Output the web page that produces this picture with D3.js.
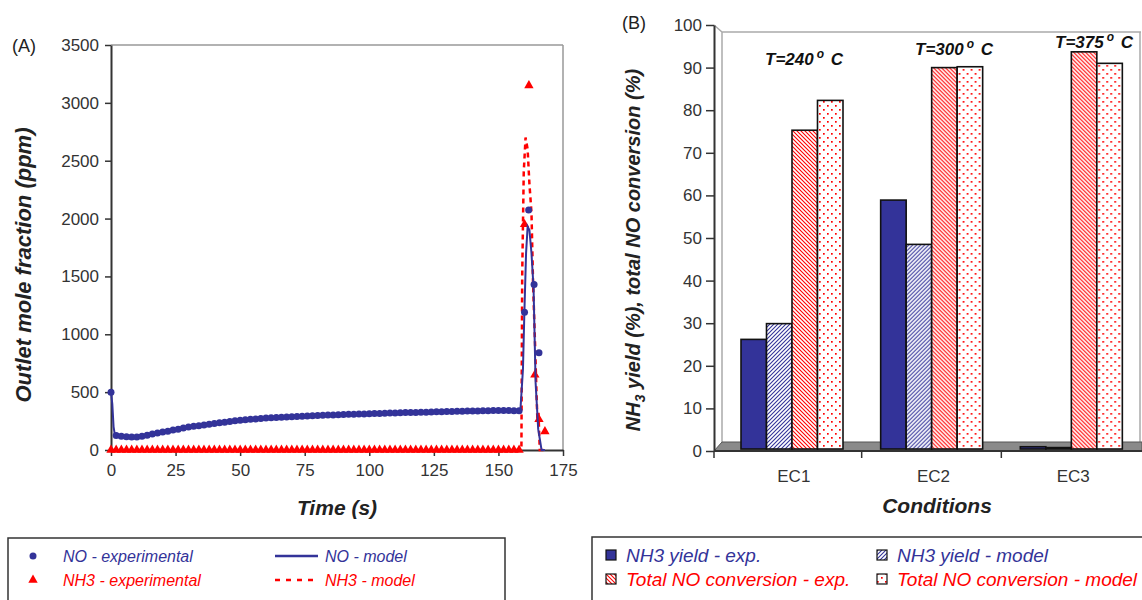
<!DOCTYPE html>
<html>
<head>
<meta charset="utf-8">
<script src="https://cdn.jsdelivr.net/npm/d3@7"></script>
<style>
  body { margin: 0; background: #fff; }
  svg { display: block; font-family: "Liberation Sans", Arial, sans-serif; }
</style>
</head>
<body>
<svg id="chart" width="1142" height="600"></svg>
<script>
// panel A: outlet mole fraction vs time
const noExpTime = [0, 2, 4, 6, 8, 10, 12, 14, 16, 18, 20, 22, 24, 26, 28, 30, 32, 34, 36, 38,
  40, 42, 44, 46, 48, 50, 52, 54, 56, 58, 60, 62, 64, 66, 68, 70, 72, 74, 76, 78,
  80, 82, 84, 86, 88, 90, 92, 94, 96, 98, 100, 102, 104, 106, 108, 110, 112, 114, 116, 118,
  120, 122, 124, 126, 128, 130, 132, 134, 136, 138, 140, 142, 144, 146, 148, 150, 152, 154, 156, 158,
  160.1, 161.7, 163.8, 165.7];
const noExpVal = [500, 125, 118, 115, 112, 112, 118, 128, 138, 146, 155, 163, 172, 180, 190, 198, 205, 210, 217, 223,
  229, 235, 240, 246, 252, 257, 261, 265, 268, 272, 276, 279, 281, 283, 285, 288, 290, 292, 294, 296,
  298, 300, 302, 303, 305, 307, 308, 310, 311, 312, 313, 315, 316, 318, 319, 320, 322, 323, 324, 325,
  326, 327, 328, 330, 331, 332, 333, 334, 335, 336, 337, 338, 339, 340, 341, 342, 342, 341, 340, 340,
  1190, 2075, 1430, 840];

const noModelTime = [0, 0.5, 1, 1.5, 3, 6, 10, 15, 20, 25, 30, 40, 50, 60, 75, 90, 100, 125, 150, 158.5,
  159.5, 160, 160.7, 161.3, 162, 162.8, 163.6, 164.4, 165.4, 166.7, 168];
const noModelVal = [500, 400, 200, 130, 120, 112, 110, 132, 153, 175, 197, 228, 255, 275, 292, 306, 312, 329, 340, 340,
  700, 1150, 1700, 1930, 1900, 1700, 1400, 580, 180, 0, 0];

const nh3ExpTime = [0, 2, 4, 6, 8, 10, 12, 14, 16, 18, 20, 22, 24, 26, 28, 30, 32, 34, 36, 38,
  40, 42, 44, 46, 48, 50, 52, 54, 56, 58, 60, 62, 64, 66, 68, 70, 72, 74, 76, 78,
  80, 82, 84, 86, 88, 90, 92, 94, 96, 98, 100, 102, 104, 106, 108, 110, 112, 114, 116, 118,
  120, 122, 124, 126, 128, 130, 132, 134, 136, 138, 140, 142, 144, 146, 148, 150, 152, 154, 156, 158,
  160.1, 161.8, 164.1, 165.7, 168];
const nh3ExpVal = [0, 0, 0, 0, 0, 0, 0, 0, 0, 0, 0, 0, 0, 0, 0, 0, 0, 0, 0, 0,
  0, 0, 0, 0, 0, 0, 0, 0, 0, 0, 0, 0, 0, 0, 0, 0, 0, 0, 0, 0,
  0, 0, 0, 0, 0, 0, 0, 0, 0, 0, 0, 0, 0, 0, 0, 0, 0, 0, 0, 0,
  0, 0, 0, 0, 0, 0, 0, 0, 0, 0, 0, 0, 0, 0, 0, 0, 0, 0, 0, 0,
  1950, 3150, 650, 265, 160];

const nh3ModelTime = [0, 158.9, 159.2, 159.8, 160.5, 161.3, 162, 162.8, 163.4, 164.2, 164.7, 165.1, 165.5, 166, 168];
const nh3ModelVal = [0, 0, 1500, 2400, 2700, 2600, 2300, 2050, 1450, 900, 520, 250, 330, 0, 0];

const timeTicks = [0, 25, 50, 75, 100, 125, 150, 175];
const moleTicks = [0, 500, 1000, 1500, 2000, 2500, 3000, 3500];

// panel B: yields and conversions
const conditions = ["EC1", "EC2", "EC3"];
const temperatures = ["240", "300", "375"];
const nh3YieldExp = [26.2, 58.9, 1.0];
const nh3YieldModel = [29.9, 48.5, 0.8];
const noConvExp = [75.3, 90.0, 93.7];
const noConvModel = [82.3, 90.2, 91.0];
const pctTicks = [0, 10, 20, 30, 40, 50, 60, 70, 80, 90, 100];
const barSeries = ["nh3Exp", "nh3Model", "convExp", "convModel"];

const blue = "#333399", red = "#ff0000";
const svg = d3.select("#chart");

// patterns
const defs = svg.append("defs");
const hatchB = defs.append("pattern").attr("id", "hatchBlue")
  .attr("patternUnits", "userSpaceOnUse").attr("width", 4).attr("height", 4);
hatchB.append("rect").attr("width", 4).attr("height", 4).attr("fill", "#fff");
hatchB.append("path").attr("d", "M-1,1 l2,-2 M0,4 l4,-4 M3,5 l2,-2")
  .attr("stroke", blue).attr("stroke-width", 1.1);
const hatchR = defs.append("pattern").attr("id", "hatchRed")
  .attr("patternUnits", "userSpaceOnUse").attr("width", 4).attr("height", 4);
hatchR.append("rect").attr("width", 4).attr("height", 4).attr("fill", "#fff");
hatchR.append("path").attr("d", "M-1,3 l2,2 M0,0 l4,4 M3,-1 l2,2")
  .attr("stroke", red).attr("stroke-width", 1.1);
const dotsR = defs.append("pattern").attr("id", "dotsRed")
  .attr("patternUnits", "userSpaceOnUse").attr("width", 8).attr("height", 8);
dotsR.append("rect").attr("width", 8).attr("height", 8).attr("fill", "#fff");
dotsR.append("rect").attr("x", 1).attr("y", 1).attr("width", 1.7).attr("height", 1.7).attr("fill", red);
dotsR.append("rect").attr("x", 5).attr("y", 5).attr("width", 1.7).attr("height", 1.7).attr("fill", red);

const fills = { nh3Exp: blue, nh3Model: "url(#hatchBlue)", convExp: "url(#hatchRed)", convModel: "url(#dotsRed)" };

// ---------- panel A ----------
const xA = d3.scaleLinear().domain([0, 175]).range([111, 563]);
const yA = d3.scaleLinear().domain([0, 3500]).range([450, 45]);

svg.append("line").attr("x1", xA(0)).attr("x2", xA(175)).attr("y1", yA(3500)).attr("y2", yA(3500))
  .attr("stroke", "#999").attr("stroke-width", 1.5);
svg.append("line").attr("x1", xA(175)).attr("x2", xA(175)).attr("y1", yA(3500)).attr("y2", yA(0))
  .attr("stroke", "#999").attr("stroke-width", 1.5);

const axA = svg.append("g").attr("transform", `translate(0,${yA(0)})`)
  .call(d3.axisBottom(xA).tickValues(timeTicks).tickSize(6).tickPadding(8).tickSizeOuter(0));
const ayA = svg.append("g").attr("transform", `translate(${xA(0)},0)`)
  .call(d3.axisLeft(yA).tickValues(moleTicks).tickFormat(d3.format("d")).tickSize(6).tickPadding(6).tickSizeOuter(0));
[axA, ayA].forEach(g => {
  g.select(".domain").attr("stroke", "#333").attr("stroke-width", 2);
  g.selectAll(".tick line").attr("stroke", "#333").attr("stroke-width", 1.5);
  g.selectAll(".tick text").attr("fill", "#333").style("font-size", "17px")
    .style("font-family", "Liberation Sans, Arial, sans-serif");
});

const noModel = noModelTime.map((t, i) => [t, noModelVal[i]]);
const nh3Model = nh3ModelTime.map((t, i) => [t, nh3ModelVal[i]]);
const lineA = d3.line().x(d => xA(d[0])).y(d => yA(d[1]));

svg.append("path").datum(nh3Model).attr("d", lineA)
  .attr("fill", "none").attr("stroke", red).attr("stroke-width", 2.5).attr("stroke-dasharray", "5,4");

svg.append("g").selectAll("path")
  .data(nh3ExpTime.map((t, i) => [t, nh3ExpVal[i]]))
  .join("path")
  .attr("transform", d => `translate(${xA(d[0])},${yA(d[1])})`)
  .attr("d", d3.symbol(d3.symbolTriangle, 38))
  .attr("fill", red);

svg.append("path").datum(noModel).attr("d", lineA)
  .attr("fill", "none").attr("stroke", blue).attr("stroke-width", 2);

svg.append("g").selectAll("circle")
  .data(noExpTime.map((t, i) => [t, noExpVal[i]]))
  .join("circle")
  .attr("cx", d => xA(d[0])).attr("cy", d => yA(d[1])).attr("r", 3.5)
  .attr("fill", blue);

svg.append("text").attr("x", 12).attr("y", 52).style("font-size", "18px").attr("fill", "#222").text("(A)");
svg.append("text").attr("x", (xA(0) + xA(175)) / 2).attr("y", 515).attr("text-anchor", "middle")
  .style("font-size", "21px").style("font-weight", "bold").style("font-style", "italic").attr("fill", "#222")
  .text("Time (s)");
svg.append("text").attr("transform", `translate(31,265) rotate(-90)`)
  .attr("text-anchor", "middle")
  .style("font-size", "22px").style("font-weight", "bold").style("font-style", "italic").attr("fill", "#222")
  .text("Outlet mole fraction (ppm)");

// ---------- panel B ----------
const yB = d3.scaleLinear().domain([0, 100]).range([451, 25]);
const x0 = d3.scaleBand().domain(conditions).range([722, 1141]);
const x1 = d3.scaleBand().domain(barSeries).range([19, 121]);
const axisX = 714;

// back wall and floor
svg.append("path")
  .attr("d", `M${axisX},${yB(100)} L722,32 L1141,32 M722,32 L722,442 M1140,32 L1140,442`)
  .attr("fill", "none").attr("stroke", "#aaa").attr("stroke-width", 1.5);
svg.append("path")
  .attr("d", `M${axisX},${yB(0)} L1142,${yB(0)} L1142,442 L722,442 Z`)
  .attr("fill", "#8a8a8a").attr("stroke", "#555").attr("stroke-width", 1);

const ayB = svg.append("g").attr("transform", `translate(${axisX},0)`)
  .call(d3.axisLeft(yB).tickValues(pctTicks).tickSize(8).tickPadding(4).tickSizeOuter(0));
ayB.select(".domain").attr("stroke", "#333").attr("stroke-width", 2);
ayB.selectAll(".tick line").attr("stroke", "#333").attr("stroke-width", 1.5);
ayB.selectAll(".tick text").attr("fill", "#333").style("font-size", "17px")
  .style("font-family", "Liberation Sans, Arial, sans-serif");

svg.append("line").attr("x1", axisX).attr("x2", 1142).attr("y1", yB(0)).attr("y2", yB(0))
  .attr("stroke", "#333").attr("stroke-width", 2);
svg.append("g").selectAll("line")
  .data([axisX, x0("EC2"), x0("EC3")])
  .join("line")
  .attr("x1", d => d).attr("x2", d => d).attr("y1", yB(0)).attr("y2", yB(0) + 7)
  .attr("stroke", "#333").attr("stroke-width", 1.5);
svg.append("g").selectAll("text")
  .data(conditions)
  .join("text")
  .attr("x", d => x0(d) + x0.bandwidth() / 2 + 2).attr("y", 482)
  .attr("text-anchor", "middle").style("font-size", "17px").attr("fill", "#333")
  .text(d => d);

const barRows = conditions.map((c, i) => ({
  cond: c,
  nh3Exp: nh3YieldExp[i], nh3Model: nh3YieldModel[i], convExp: noConvExp[i], convModel: noConvModel[i]
}));

svg.append("g").selectAll("g")
  .data(barRows)
  .join("g")
  .attr("transform", d => `translate(${x0(d.cond)},0)`)
  .selectAll("rect")
  .data(d => barSeries.map(k => ({ key: k, value: d[k] })))
  .join("rect")
  .attr("x", d => x1(d.key))
  .attr("y", d => yB(d.value))
  .attr("width", x1.bandwidth())
  .attr("height", d => yB(0) - 2 - yB(d.value))
  .attr("fill", d => fills[d.key])
  .attr("stroke", "#111").attr("stroke-width", 1.6);

// temperature labels
const tempPos = [[765, 65], [915, 55], [1055, 48]];
temperatures.forEach((t, i) => {
  const txt = svg.append("text").attr("x", tempPos[i][0]).attr("y", tempPos[i][1])
    .style("font-size", "17px").style("font-weight", "bold").style("font-style", "italic").attr("fill", "#111");
  txt.append("tspan").text("T=" + t);
  txt.append("tspan").attr("dx", 3).attr("dy", -7).style("font-size", "12px").text("o");
  txt.append("tspan").attr("dx", 2).attr("dy", 7).text(" C");
});

svg.append("text").attr("x", 622).attr("y", 29).style("font-size", "18px").attr("fill", "#222").text("(B)");
svg.append("text").attr("x", 937).attr("y", 513).attr("text-anchor", "middle")
  .style("font-size", "21px").style("font-weight", "bold").style("font-style", "italic").attr("fill", "#222")
  .text("Conditions");
const yTitle = svg.append("text").attr("transform", `translate(640,${(yB(0) + yB(100)) / 2 + 12}) rotate(-90)`)
  .attr("text-anchor", "middle")
  .style("font-size", "20px").style("font-weight", "bold").style("font-style", "italic").attr("fill", "#222");
yTitle.append("tspan").text("NH");
yTitle.append("tspan").attr("dy", 5).style("font-size", "14px").text("3");
yTitle.append("tspan").attr("dy", -5).text(" yield (%), total NO conversion (%)");

// ---------- legends ----------
svg.append("rect").attr("x", 8).attr("y", 538).attr("width", 497).attr("height", 80)
  .attr("fill", "none").attr("stroke", "#333").attr("stroke-width", 1.5);
const legA = [
  { label: "NO - experimental", color: blue, kind: "dot", x: 33, y: 556 },
  { label: "NO - model", color: blue, kind: "line", x: 275, y: 556 },
  { label: "NH3 - experimental", color: red, kind: "tri", x: 33, y: 580 },
  { label: "NH3 - model", color: red, kind: "dash", x: 275, y: 580 }
];
legA.forEach(d => {
  if (d.kind === "dot") svg.append("circle").attr("cx", d.x).attr("cy", d.y).attr("r", 3.5).attr("fill", d.color);
  if (d.kind === "tri") svg.append("path").attr("transform", `translate(${d.x},${d.y})`)
    .attr("d", d3.symbol(d3.symbolTriangle, 38)).attr("fill", d.color);
  if (d.kind === "line" || d.kind === "dash") svg.append("line")
    .attr("x1", d.x).attr("x2", d.x + 43).attr("y1", d.y).attr("y2", d.y)
    .attr("stroke", d.color).attr("stroke-width", 2.5)
    .attr("stroke-dasharray", d.kind === "dash" ? "5,6" : null);
  svg.append("text").attr("x", d.kind === "dot" || d.kind === "tri" ? 63 : 325).attr("y", d.y + 6)
    .style("font-size", "16px").style("font-style", "italic").attr("fill", d.color).text(d.label);
});

svg.append("rect").attr("x", 592).attr("y", 537).attr("width", 560).attr("height", 80)
  .attr("fill", "none").attr("stroke", "#333").attr("stroke-width", 1.5);
const legB = [
  { label: "NH3 yield - exp.", key: "nh3Exp", color: blue, x: 606, y: 556 },
  { label: "NH3 yield - model", key: "nh3Model", color: blue, x: 877, y: 556 },
  { label: "Total NO conversion - exp.", key: "convExp", color: red, x: 606, y: 580 },
  { label: "Total NO conversion - model", key: "convModel", color: red, x: 877, y: 580 }
];
legB.forEach(d => {
  svg.append("rect").attr("x", d.x).attr("y", d.y - 6).attr("width", 10).attr("height", 10)
    .attr("fill", fills[d.key]).attr("stroke", "#111").attr("stroke-width", 1.2);
  svg.append("text").attr("x", d.x + 20).attr("y", d.y + 6)
    .style("font-size", "19px").style("font-style", "italic").attr("fill", d.color).text(d.label);
});
</script>
</body>
</html>
